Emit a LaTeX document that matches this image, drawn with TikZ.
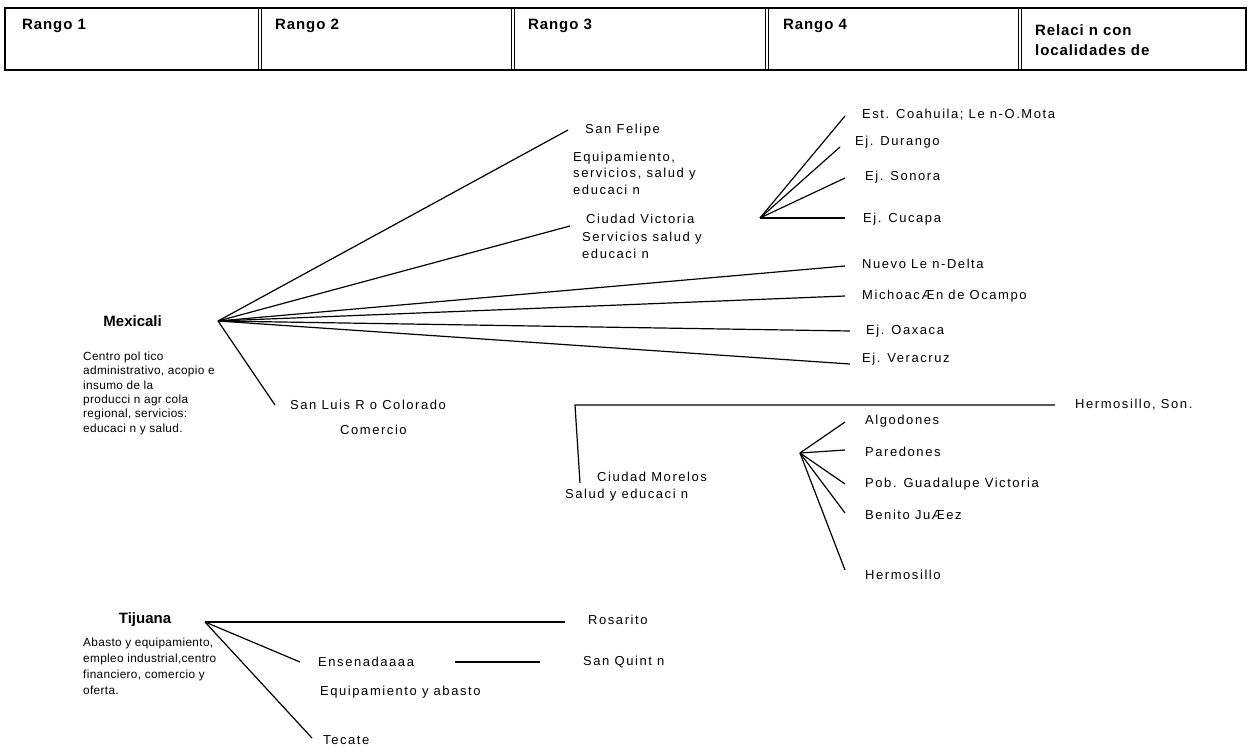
\documentclass[tikz,border=0pt]{standalone}
\usepackage{fontspec}
\setmainfont{Liberation Sans}
\newfontfamily\spaced[LetterSpace=12]{Liberation Sans}
\newfontfamily\tight[LetterSpace=3]{Liberation Sans}
\newfontfamily\spacedbf[LetterSpace=6]{Liberation Sans}
\newcommand\txtfont{\spaced\fontsize{13}{16}\selectfont}
\newcommand\hdfont{\spacedbf\bfseries\fontsize{15}{20}\selectfont}
\newcommand\cityfont{\bfseries\fontsize{15}{20}\selectfont}
\usetikzlibrary{positioning}

\begin{document}
\begin{tikzpicture}[x=1pt,y=-1pt,
	head/.style={font=\hdfont,anchor=west,inner sep=0pt},
	city/.style={font=\cityfont,inner sep=0pt},
	place/.style={font=\txtfont,anchor=west,inner sep=0pt},
	note/.style={font=\txtfont,align=left,anchor=north west,inner sep=0pt},
	role/.style={font=\tight\fontsize{11.8}{14.4}\selectfont,align=left,anchor=north west,inner sep=0pt},
	link/.style={line width=1.2pt},
	cell/.style={double,double distance=1.6pt,line width=0.8pt}]

\useasboundingbox (0,0) rectangle (1251,752);

\draw[line width=1.3pt] (5,8) rectangle (1246,70);
\foreach \x in {260,513,767,1020}
	\draw[cell] (\x,8.6) -- (\x,69.4);
\node[head] (r1) at (22,26) {Rango 1};
 \node[head] (r2) at (275,26) {Rango 2};
	\node[head] (r3) at (528,26) {Rango 3};
	\node[head] (r4) at (783,26) {Rango 4};
	\node[head,align=left,anchor=north west] (rel) at (1035,24.6) {Relaci n con\\localidades de};

\coordinate (mx) at (218,321);
\node[city,anchor=east] (mexicali) at (162,321) {Mexicali};
	\node[role] (mxnote) at (83,351.5) {Centro pol tico\\administrativo, acopio e\\insumo de la\\producci n agr cola\\regional, servicios:\\educaci n y salud.};

\coordinate (sf) at (568,130);
	\node[place,right=17pt of sf] (sanfelipe) {San Felipe};
	\node[note,font=\spaced\fontsize{13}{16.5}\selectfont] (sfnote) at (573,151.4) {Equipamiento,\\servicios, salud y\\educaci n};
\coordinate (cv) at (570,226);
	\node[place] (victoria) at (586,219) {Ciudad Victoria};
	\node[note,font=\spaced\fontsize{13}{17}\selectfont] (cvnote) at (582,231.4) {Servicios salud y\\educaci n};
\coordinate (nl) at (845,266);
	\node[place,right=17pt of nl,yshift=2pt] (nuevoleon) {Nuevo Le n-Delta};
\coordinate (mi) at (845,296);
	\node[place,right=17pt of mi] (michoacan) {MichoacÆn de Ocampo};
\coordinate (oa) at (850,331);
	\node[place,right=16pt of oa] (oaxaca) {Ej. Oaxaca};
\coordinate (ve) at (850,364);
	\node[place] (veracruz) at (862,359) {Ej. Veracruz};
\coordinate (sl) at (275,405);
	\node[place,right=15pt of sl] (sanluis) {San Luis R o Colorado};
	\node[place] (comercio) at (340,430) {Comercio};

\path[link] (mx) edge (sf)
			edge (cv)
			edge (nl)
			edge (mi)
			edge (oa)
			edge (ve)
			edge (sl);

\coordinate (r4hub) at (760,218);
\coordinate (co) at (845,116);
	\node[place] (coahuila) at (862,115) {Est. Coahuila; Le n-O.Mota};
\coordinate (du) at (840,147);
	\node[place] (durango) at (855,142) {Ej. Durango};
\coordinate (so) at (845,178);
	\node[place] (sonora) at (865,177) {Ej. Sonora};
\coordinate (cu) at (845,218);
	\node[place] (cucapa) at (863,219) {Ej. Cucapa};

\path[link] (r4hub) edge (co)
				edge (du)
				edge (so)
				edge (cu);

\node[place] (morelos) at (597,477) {Ciudad Morelos};
	\node[place] (morelosnote) at (565,495) {Salud y educaci n};
\coordinate (mtop) at (580,483);
\coordinate (mcorner) at (575,405);
\coordinate (hs) at (1055,405);
	\node[place,right=20pt of hs] (hermson) {Hermosillo, Son.};
\draw[link] (mtop) -- (mcorner) -- (hs);

\coordinate (cmhub) at (800,453);
\coordinate (al) at (845,422);
	\node[place] (algodones) at (865,421) {Algodones};
\coordinate (pa) at (845,450);
	\node[place] (paredones) at (865,452) {Paredones};
\coordinate (gv) at (845,484);
	\node[place] (guadalupe) at (865,484) {Pob. Guadalupe Victoria};
\coordinate (bj) at (845,513);
	\node[place] (benito) at (865,515) {Benito JuÆez};
\coordinate (he) at (845,570);
	\node[place] (hermosillo) at (865,575) {Hermosillo};

\path[link] (cmhub) edge (al)
				edge (pa)
				edge (gv)
				edge (bj)
				edge (he);

\coordinate (tj) at (205,622);
\node[city] (tijuana) at (145,620) {Tijuana};
	\node[role,font=\tight\fontsize{11.8}{16}\selectfont] (tjnote) at (83,638) {Abasto y equipamiento,\\empleo industrial,centro\\financiero, comercio y\\oferta.};
\coordinate (ro) at (565,622);
	\node[place] (rosarito) at (588,620) {Rosarito};
\coordinate (en) at (300,662);
	\node[place,right=18pt of en] (ensenada) {Ensenadaaaa};
	\node[place] (ennote) at (320,692) {Equipamiento y abasto};
\coordinate (te) at (312,738);
	\node[place] (tecate) at (323,740) {Tecate};
\coordinate (sq1) at (455,662);
\coordinate (sq2) at (540,662);
	\node[place] (sanquintin) at (583,662) {San Quint n};

\path[link] (tj) edge (ro)
			edge (en)
			edge (te)
		(sq1) edge (sq2);

\end{tikzpicture}
\end{document}
